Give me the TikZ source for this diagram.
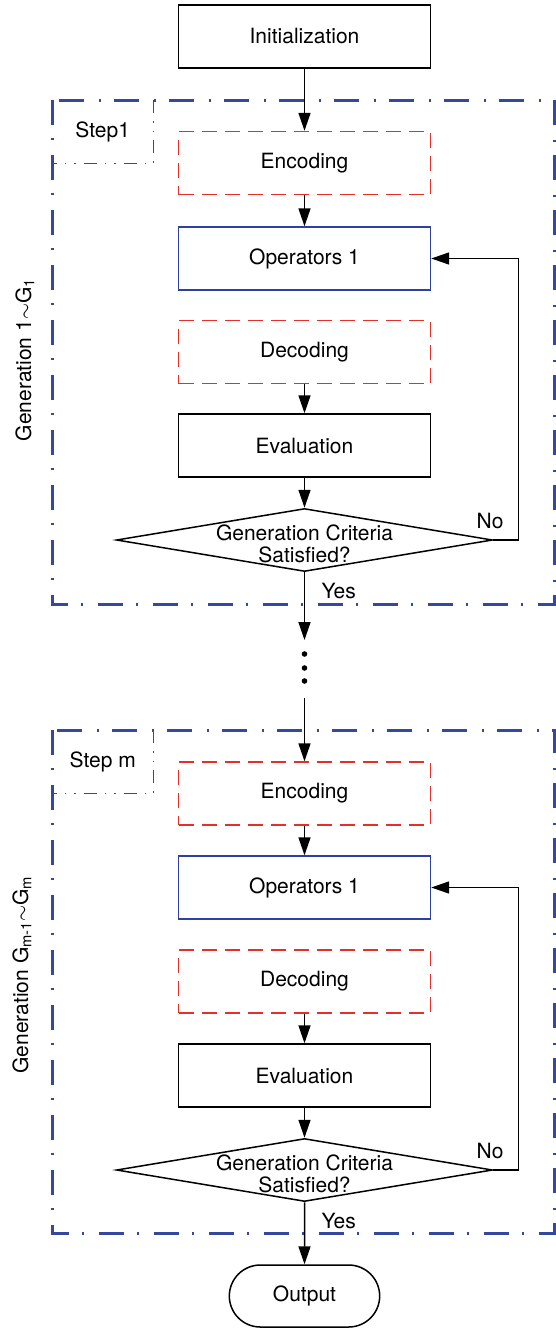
\documentclass[tikz,border=0pt]{standalone}
\usepackage{fontspec}
\setmainfont{TeX Gyre Heros}
\usetikzlibrary{arrows.meta,shapes.geometric,shapes.misc}

\definecolor{frameblue}{RGB}{52,72,160}
\definecolor{opblue}{RGB}{48,64,160}
\definecolor{codered}{RGB}{228,48,40}

\tikzset{
    block/.style={draw, line width=1.5pt, minimum width=252pt, minimum height=63pt, inner sep=0pt},
    codebox/.style={block, draw=codered, line width=1.4pt, dash pattern=on 15pt off 8pt},
    opbox/.style={block, draw=opblue, line width=1.4pt},
    crit/.style={diamond, draw, line width=1.5pt, aspect=6, minimum width=376pt, minimum height=63pt, inner sep=0pt},
    term/.style={rounded rectangle, draw, line width=1.5pt, minimum width=157pt, minimum height=62pt},
    flow/.style={-{Triangle[length=18pt,width=12pt]}, line width=1.5pt},
    gframe/.style={draw=frameblue, line width=3pt, dash pattern=on 25pt off 13pt on 2pt off 15pt},
    stepline/.style={draw=frameblue, line width=1.4pt, dash pattern=on 13pt off 8pt on 1.5pt off 8pt on 1.5pt off 8pt},
    steplabel/.style={anchor=north west, minimum width=101pt, minimum height=63pt, inner sep=0pt}
}

\begin{document}
\begin{tikzpicture}[x=1pt, y=-1pt, font=\fontsize{21}{22}\selectfont]
    \useasboundingbox (0,0) rectangle (556,1328);

    % frames of the two steps
    \draw[gframe] (52,100) rectangle (554,604);
    \draw[gframe] (52,730) rectangle (554,1233);
    \node[steplabel] (step1) at (52,100) {Step1};
    \node[steplabel] (stepm) at (52,730) {Step m};
    \draw[stepline] (step1.north east) -- (step1.south east) -- (step1.south west);
    \draw[stepline] (stepm.north east) -- (stepm.south east) -- (stepm.south west);
    \node[rotate=90] (gen1) at (25,360) {Generation 1$\sim$G\textsubscript{1}};
    \node[rotate=90] (genm) at (22,975) {Generation G\textsubscript{m-1}$\sim$G\textsubscript{m}};

    % step 1
    \node[block] (init) at (304.5,36.5) {Initialization};
    \node[codebox] (enc1) at (304.5,163) {Encoding};
    \node[opbox] (op1) at (304.5,258.5) {Operators 1};
    \node[codebox] (dec1) at (304.5,352) {Decoding};
    \node[block] (eval1) at (304.5,445.5) {Evaluation};
    \node[crit, label={[align=center, yshift=-4pt]center:{Generation Criteria\\Satisfied?}}] (crit1) at (304.5,540) {};
    \node[anchor=base east] (no1) at (507,528) {No};
    \node[anchor=base west] (yes1) at (318,598) {Yes};

    \draw[flow] (init) -- (enc1);
    \draw[flow] (enc1) -- (op1);
    \draw[flow] (dec1) -- (eval1);
    \draw[flow] (eval1) -- (crit1);
    \draw[flow] (crit1.east) -- ++(25,0) |- (op1.east);

    % between the steps
    \coordinate (gap1) at (304.5,640);
    \coordinate (gap2) at (304.5,698);
    \draw[flow] (crit1.south) -- (gap1);
    \foreach \y in {654,668,681}{
        \fill (304.5,\y) circle (2.8pt);
    }

    % step m
    \node[codebox] (enc2) at (304.5,793.5) {Encoding};
    \node[opbox] (op2) at (304.5,887.5) {Operators 1};
    \node[codebox] (dec2) at (304.5,981.5) {Decoding};
    \node[block] (eval2) at (304.5,1075.5) {Evaluation};
    \node[crit, label={[align=center, yshift=-4pt]center:{Generation Criteria\\Satisfied?}}] (crit2) at (304.5,1170) {};
    \node[anchor=base east] (no2) at (507,1158) {No};
    \node[anchor=base west] (yes2) at (318,1228) {Yes};
    \node[term] (out) at (304.5,1296) {Output};

    \draw[flow] (gap2) -- (enc2);
    \draw[flow] (enc2) -- (op2);
    \draw[flow] (dec2) -- (eval2);
    \draw[flow] (eval2) -- (crit2);
    \draw[flow] (crit2.east) -- ++(25,0) |- (op2.east);
    \draw[flow] (crit2) -- (out);
\end{tikzpicture}
\end{document}
